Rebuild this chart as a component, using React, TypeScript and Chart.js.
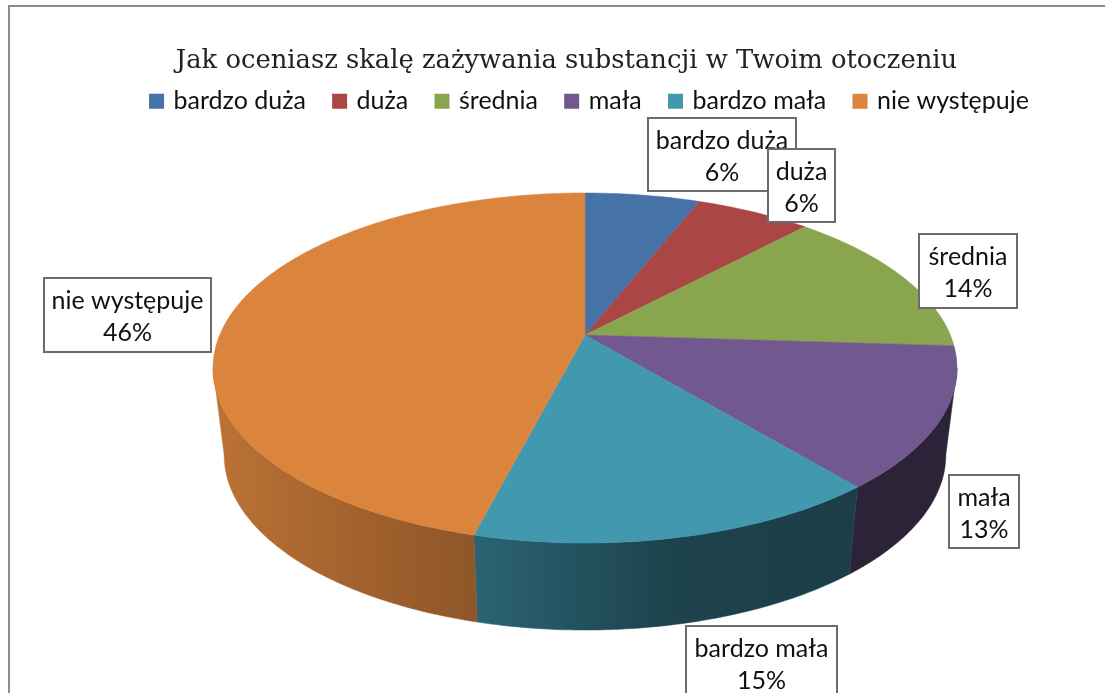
import React, { useEffect, useRef } from "react";
import { Chart, registerables } from "chart.js";

Chart.register(...registerables);

const categories = ["bardzo duża", "duża", "średnia", "mała", "bardzo mała", "nie występuje"];
const percentValues = [6, 6, 14, 13, 15, 46];
const sliceColors = ["#4572A7", "#AA4643", "#89A54E", "#71588F", "#4198AF", "#DB843D"];
const chartTitle = "Jak oceniasz skalę zażywania substancji w Twoim otoczeniu";

// side-wall shading (left, middle, right) per slice
const sideShades = [
  [0.5, 0.5, 0.5],
  [0.5, 0.5, 0.5],
  [0.5, 0.5, 0.5],
  [0.4, 0.4, 0.4],
  [0.66, 0.44, 0.41],
  [0.86, 0.75, 0.65],
];
// manually placed data-label boxes: left, top, right, bottom
const labelBoxes = [
  [648, 118, 796, 191],
  [768, 149, 835, 222],
  [919, 234, 1017, 308],
  [949, 475, 1019, 548],
  [686, 626, 837, 700],
  [44, 278, 211, 352],
];

const SANS = "Lato, 'Open Sans', sans-serif";
const SERIF = "'DejaVu Serif', serif";

// perspective of the pie disc
const CX = 585;
const CY = 335;
const AX = 365.3;
const BY = 168.8;
const K = 0.1886;
const DEPTH = 87;
const SIDE_SCALE = 0.97;
const EDGE = Math.asin(K); // angle where the rim reaches its widest point

function project(theta: number) {
  const u = Math.sin(theta);
  const v = Math.cos(theta);
  const d = 1 + K * v;
  return { x: CX + (AX * u) / d, y: CY - (BY * v) / d };
}
function lower(p: { x: number; y: number }) {
  return { x: CX + SIDE_SCALE * (p.x - CX), y: p.y + DEPTH };
}
function shade(hex: string, f: number) {
  const n = parseInt(hex.slice(1), 16);
  const c = [(n >> 16) & 255, (n >> 8) & 255, n & 255].map((x) => Math.round(x * f));
  return `rgb(${c[0]},${c[1]},${c[2]})`;
}
function samples(a: number, b: number) {
  const n = Math.max(2, Math.ceil(Math.abs(b - a) * 60));
  const out: number[] = [];
  for (let i = 0; i <= n; i++) out.push(a + ((b - a) * i) / n);
  return out;
}

const pie3d = {
  id: "pie3d",
  beforeDatasetDraw(chart: any, args: any) {
    const ctx = chart.ctx;
    const arcs = args.meta.data;
    const angles = arcs.map((el: any) => {
      const p = el.getProps(["startAngle", "endAngle"], true);
      return [p.startAngle + Math.PI / 2, p.endAngle + Math.PI / 2];
    });
    ctx.save();
    // side wall
    const lo = Math.PI / 2 + EDGE;
    const hi = (3 * Math.PI) / 2 - EDGE;
    angles.forEach(([a, b]: number[], i: number) => {
      const s = Math.max(a, lo);
      const e = Math.min(b, hi);
      if (e <= s) return;
      const top = samples(s, e).map(project);
      const bottom = top.map(lower).reverse();
      const xs = top.concat(bottom).map((p) => p.x);
      const g = ctx.createLinearGradient(Math.min(...xs), 0, Math.max(...xs), 0);
      g.addColorStop(0, shade(sliceColors[i], sideShades[i][0]));
      g.addColorStop(0.5, shade(sliceColors[i], sideShades[i][1]));
      g.addColorStop(1, shade(sliceColors[i], sideShades[i][2]));
      ctx.beginPath();
      top.concat(bottom).forEach((p, j) => (j ? ctx.lineTo(p.x, p.y) : ctx.moveTo(p.x, p.y)));
      ctx.closePath();
      ctx.fillStyle = g;
      ctx.strokeStyle = g;
      ctx.lineWidth = 0.5;
      ctx.fill();
      ctx.stroke();
    });
    // top face
    angles.forEach(([a, b]: number[], i: number) => {
      ctx.beginPath();
      ctx.moveTo(CX, CY);
      samples(a, b).map(project).forEach((p) => ctx.lineTo(p.x, p.y));
      ctx.closePath();
      ctx.fillStyle = sliceColors[i];
      ctx.strokeStyle = sliceColors[i];
      ctx.lineWidth = 0.5;
      ctx.fill();
      ctx.stroke();
    });
    ctx.restore();
    return false;
  },
  afterDatasetsDraw(chart: any) {
    const ctx = chart.ctx;
    ctx.save();
    categories.forEach((name, i) => {
      const [l, t, r, b] = labelBoxes[i];
      ctx.fillStyle = "#ffffff";
      ctx.fillRect(l, t, r - l, b - t);
      ctx.strokeStyle = "#6b6b6b";
      ctx.lineWidth = 2;
      ctx.strokeRect(l, t, r - l, b - t);
      ctx.fillStyle = "#111111";
      ctx.font = `25px ${SANS}`;
      ctx.textAlign = "center";
      ctx.textBaseline = "alphabetic";
      const mid = (l + r) / 2;
      ctx.fillText(name, mid, t + 31);
      ctx.fillText(`${percentValues[i]}%`, mid, t + 63);
    });
    ctx.restore();
  },
  afterDraw(chart: any) {
    const ctx = chart.ctx;
    ctx.save();
    // frame of the embedded chart, cut by the page edge
    ctx.strokeStyle = "#8c8c8c";
    ctx.lineWidth = 2;
    ctx.beginPath();
    ctx.moveTo(9, 693);
    ctx.lineTo(9, 6);
    ctx.lineTo(1105, 6);
    ctx.stroke();
    ctx.restore();
  },
  afterLayout(chart: any) {
    // the title sits left of the legend's centre
    chart.titleBlock.left -= 24;
    chart.titleBlock.right -= 24;
  },
};

export default function App() {
  const ref = useRef<HTMLCanvasElement>(null);
  useEffect(() => {
    document.body.style.margin = "0";
    document.body.style.background = "#ffffff";
    const chart = new Chart(ref.current as HTMLCanvasElement, {
      type: "pie",
      data: {
        labels: categories,
        datasets: [{ data: percentValues, backgroundColor: sliceColors, borderWidth: 0 }],
      },
      plugins: [pie3d],
      options: {
        animation: false,
        responsive: false,
        layout: { padding: { left: 76, top: 45.5 } },
        plugins: {
          tooltip: { enabled: false },
          title: {
            display: true,
            text: chartTitle,
            color: "#222222",
            font: { family: SERIF, size: 25.8, weight: "normal" },
            padding: { top: 0, bottom: -16.8 },
          },
          legend: {
            position: "top",
            labels: {
              color: "#111111",
              font: { family: SANS, size: 25 },
              boxWidth: 9,
              boxHeight: 9,
              padding: 29.2,
              generateLabels(c: any) {
                return Chart.overrides.pie.plugins.legend.labels
                  .generateLabels(c)
                  .map((it: any) => ({ ...it, lineWidth: 6, strokeStyle: it.fillStyle }));
              },
            },
          },
        },
      },
    } as any);
    return () => chart.destroy();
  }, []);
  return <canvas ref={ref} width={1105} height={693} style={{ display: "block" }} />;
}
